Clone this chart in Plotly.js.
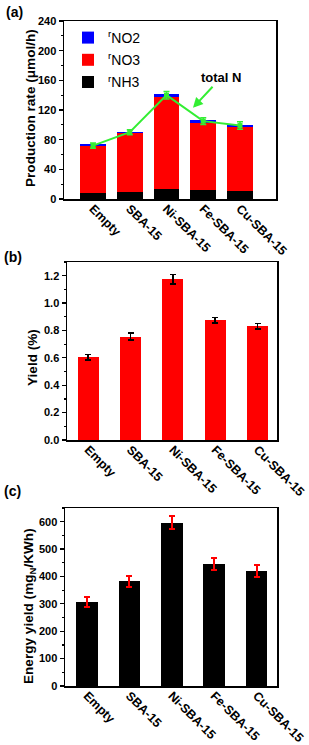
<!DOCTYPE html>
<html><head><meta charset="utf-8">
<script src="https://cdn.plot.ly/plotly-3.0.1.min.js"></script>
<style>html,body{margin:0;padding:0;background:#fff}#chart{width:309px;height:745px}</style>
</head><body><div id="chart"></div>
<script>
const categories = ["Empty","SBA-15","Ni-SBA-15","Fe-SBA-15","Cu-SBA-15"];
// panel (a) production rate (umol/h)
const rNH3 = [8, 9.5, 14, 12, 11];
const rNO3 = [64, 80, 123, 91, 86];
const rNO2 = [1.5, 1.5, 4.5, 3, 3];
const totalN = [72, 90, 140, 105, 99];
const totalNErr = [3.5, 3.5, 5, 4.5, 5];
// panel (b) yield (%)
const yieldPct = [0.605, 0.755, 1.175, 0.875, 0.83];
const yieldErr = [0.02, 0.025, 0.035, 0.02, 0.02];
// panel (c) energy yield (mgN/KWh)
const energyYield = [308, 383, 597, 445, 420];
const energyErr = [18, 20, 25, 22, 22];

const F = "Liberation Sans, Arial, sans-serif";
const tickFont = {family: F, size: 11, color: "#000", weight: "bold"};
const xTickFont = {family: F, size: 12.5, color: "#000", weight: "bold"};
const titleFont = {family: F, size: 13.6, color: "#000", weight: "bold"};

const traces = [
  {type: "bar", x: categories, y: rNH3, name: "<sup>r</sup>NH3", legendgroup: "gc", legendrank: 3, marker: {color: "#000000"}, width: 0.7, xaxis: "x", yaxis: "y"},
  {type: "bar", x: categories, y: rNO3, name: "<sup>r</sup>NO3", legendgroup: "gb", legendrank: 2, marker: {color: "#ff0000"}, width: 0.7, xaxis: "x", yaxis: "y"},
  {type: "bar", x: categories, y: rNO2, name: "<sup>r</sup>NO2", legendgroup: "ga", legendrank: 1, marker: {color: "#0000ff"}, width: 0.7, xaxis: "x", yaxis: "y"},
  {type: "scatter", mode: "lines+markers", x: categories, y: totalN, showlegend: false,
   line: {color: "#33ee33", width: 2}, marker: {color: "#33ee33", size: 5, symbol: "square"},
   error_y: {type: "data", array: totalNErr, color: "#33ee33", thickness: 1.5, width: 3}, xaxis: "x", yaxis: "y"},
  {type: "bar", x: categories, y: yieldPct, showlegend: false, marker: {color: "#ff0000"}, width: 0.5,
   error_y: {type: "data", array: yieldErr, color: "#000", thickness: 1.5, width: 3}, xaxis: "x2", yaxis: "y2"},
  {type: "bar", x: categories, y: energyYield, showlegend: false, marker: {color: "#000000"}, width: 0.51,
   error_y: {type: "data", array: energyErr, color: "#ff0000", thickness: 2, width: 3}, xaxis: "x3", yaxis: "y3"}
];

function xax(domain, range, anchor) {
  return {domain: domain, range: range, anchor: anchor, type: "category", tickangle: 45,
    tickfont: xTickFont, showline: true, linecolor: "#000", linewidth: 1.5, mirror: true,
    ticks: "", ticklabelstandoff: -4, showgrid: false, zeroline: false, fixedrange: true};
}
function yax(domain, range, dtick, anchor, fmt) {
  return {domain: domain, range: range, dtick: dtick, anchor: anchor, tickfont: tickFont, tickformat: fmt,
    showline: true, linecolor: "#000", linewidth: 1.5, mirror: true, ticks: "outside", ticklen: 4,
    tickwidth: 1.2, tickcolor: "#000", minor: {ticks: "outside", ticklen: 2, nticks: 2, tickcolor: "#000"},
    showgrid: false, zeroline: false, fixedrange: true};
}
function ytitle(text, xpx, ypx) {
  return {xref: "paper", yref: "paper", x: xpx/309, y: 1-ypx/745, xanchor: "center", yanchor: "middle",
    textangle: -90, showarrow: false, text: text, font: titleFont};
}
function plabel(text, xpx, ypx) {
  return {xref: "paper", yref: "paper", x: xpx/309, y: 1-ypx/745, xanchor: "left", yanchor: "top", showarrow: false,
    text: text, font: {family: F, size: 14, color: "#000", weight: "bold"}};
}

const layout = {
  width: 309, height: 745, margin: {l: 0, r: 0, t: 0, b: 0},
  paper_bgcolor: "#fff", plot_bgcolor: "#fff", barmode: "stack", showlegend: true,
  font: {family: F, color: "#000"},
  xaxis: xax([64/309, 276/309], [-0.79, 4.98], "y"),
  yaxis: yax([1-199/745, 1-21/745], [0, 240], 40, "x", ""),
  xaxis2: xax([67/309, 277/309], [-0.5, 4.46], "y2"),
  yaxis2: yax([1-440/745, 1-262/745], [0, 1.3], 0.2, "x2", ".1f"),
  xaxis3: xax([65/309, 277/309], [-0.52, 4.48], "y3"),
  yaxis3: yax([1-686/745, 1-508/745], [0, 650], 100, "x3", ""),
  legend: {x: 68/309, y: 1-22/745, xanchor: "left", yanchor: "top", traceorder: "grouped",
    tracegroupgap: 1, font: {family: F, size: 14, color: "#000"}, bgcolor: "rgba(0,0,0,0)", itemwidth: 30},
  annotations: [
    {xref: "x", yref: "y", x: 2.72, y: 123, ax: 28, ay: -30, text: "total N", showarrow: true,
     arrowhead: 2, arrowsize: 1, arrowwidth: 2, arrowcolor: "#33ee33",
     font: {family: F, size: 13, color: "#000", weight: "bold"}},
    plabel("(a)", 4, 2), plabel("(b)", 2, 247), plabel("(c)", 2, 481),
    ytitle("Production rate (\u03bcmol/h)", 30, 108),
    ytitle("Yield (%)", 32, 358),
    ytitle("Energy yield (mg<sub>N</sub>/KWh)", 29, 606)
  ]
};

Plotly.newPlot("chart", traces, layout, {staticPlot: true, displayModeBar: false});
</script></body></html>
